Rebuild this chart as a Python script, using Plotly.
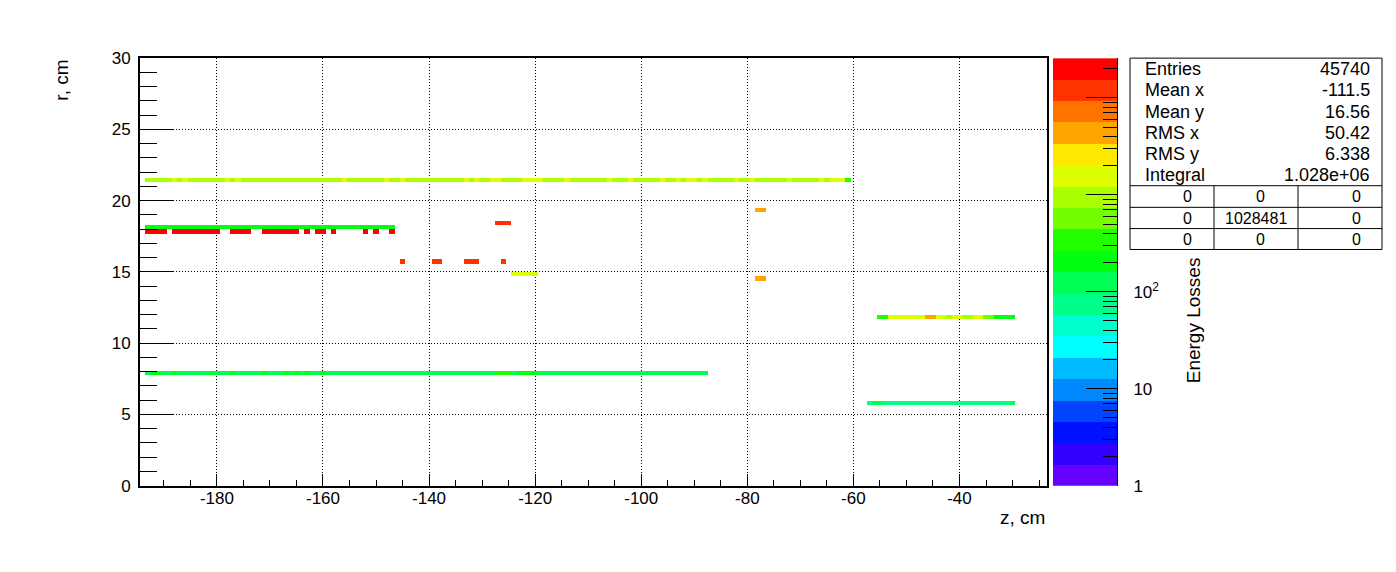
import math
import numpy as np
import plotly.graph_objects as go

W, H = 1396, 572

Z_START, Z_STOP, Z_BIN = -194.5, -23.5, 1.0
R_START, R_STOP, R_BIN = 0.0, 30.0, 0.3
LOG_ZMAX = 4.41          # top of the colour scale (log10 of energy losses)

X_TICKS = [-180, -160, -140, -120, -100, -80, -60, -40]
X_TICK_LABELS = ["-180", "-160", "-140", "-120", "-100", "-80", "-60", "-40"]
Y_TICKS = [0, 5, 10, 15, 20, 25, 30]
Y_TICK_LABELS = ["0", "5", "10", "15", "20", "25", "30"]
CB_TICKS = [0, 1, 2]
CB_TICK_LABELS = ["1", "10", "10<sup>2</sup>"]
CB_UNLABELLED = [3, 4]

# ROOT-like rainbow palette, 20 contours, low -> high
PALETTE = ["#6600ff", "#3300ff", "#0011ff", "#0044ff", "#0088ff",
           "#00bbff", "#00ffff", "#00ffcc", "#00ff88", "#00ff55",
           "#00ff11", "#22ff00", "#73ff00", "#aaff00", "#ddff00",
           "#ffe800", "#ffa500", "#ff7300", "#ff3300", "#ff0000"]

# ---------------- data: rows of cells (r lower edge, runs of z bins) ----------------
# each run: (z from, z to, energy losses); later runs overwrite earlier ones
R_TOP = 21.3
RUNS_TOP = [(-193.5, -60.5, 950),
            (-188.5, -187.5, 1580), (-186.5, -185.5, 1580), (-178.5, -177.5, 1580),
            (-176.5, -175.5, 1580), (-156.5, -155.5, 1580), (-148.5, -147.5, 1580),
            (-145.5, -144.5, 1580), (-133.5, -132.5, 1580), (-131.5, -130.5, 1580),
            (-128.5, -126.5, 1580), (-122.5, -118.5, 1580), (-114.5, -113.5, 1580),
            (-106.5, -105.5, 1580), (-102.5, -101.5, 1580), (-96.5, -95.5, 1580),
            (-93.5, -92.5, 1580), (-91.5, -89.5, 1580), (-88.5, -87.5, 1580),
            (-82.5, -81.5, 1580), (-79.5, -78.5, 1580), (-72.5, -71.5, 1580),
            (-66.5, -65.5, 1580), (-64.5, -61.5, 1580), (-61.5, -60.5, 340)]

R_GREEN = 18.0
RUNS_GREEN = [(-193.5, -146.5, 210)]

R_RED = 17.7
RUNS_RED = [(-193.5, -189.5, 20000), (-188.5, -179.5, 20000), (-177.5, -173.5, 20000),
            (-171.5, -164.5, 20000), (-163.5, -162.5, 20000), (-161.5, -159.5, 20000),
            (-158.5, -157.5, 20000), (-152.5, -151.5, 20000), (-150.5, -149.5, 20000),
            (-147.5, -146.5, 20000)]

R_A = 18.3
RUNS_A = [(-127.5, -124.5, 12000)]

R_B = 15.6
RUNS_B = [(-145.5, -144.5, 12000), (-139.5, -137.5, 12000),
          (-133.5, -130.5, 12000), (-126.5, -125.5, 12000)]

R_C = 14.7
RUNS_C = [(-124.5, -119.5, 1580)]

R_D = 19.2
RUNS_D = [(-78.5, -76.5, 4350)]

R_E = 14.4
RUNS_E = [(-78.5, -76.5, 4350)]

R_F = 11.7
RUNS_F = [(-55.5, -53.5, 340), (-53.5, -46.5, 1580), (-46.5, -44.5, 4350),
          (-44.5, -42.5, 1580), (-42.5, -41.5, 950), (-41.5, -39.5, 1580),
          (-39.5, -37.5, 950), (-37.5, -35.5, 1580), (-35.5, -33.5, 570),
          (-33.5, -29.5, 210)]

R_G = 7.8
RUNS_G = [(-193.5, -87.5, 125),
          (-192.5, -190.5, 210), (-188.5, -187.5, 210), (-181.5, -180.5, 210),
          (-177.5, -176.5, 210), (-171.5, -170.5, 210), (-167.5, -166.5, 210),
          (-165.5, -164.5, 210), (-163.5, -162.5, 210), (-160.5, -159.5, 210),
          (-127.5, -124.5, 340), (-123.5, -119.5, 210)]

R_H = 5.7
RUNS_H = [(-57.5, -29.5, 75), (-56.5, -54.5, 125), (-30.5, -29.5, 125)]

ROWS = [(R_TOP, RUNS_TOP), (R_GREEN, RUNS_GREEN), (R_RED, RUNS_RED), (R_A, RUNS_A),
        (R_B, RUNS_B), (R_C, RUNS_C), (R_D, RUNS_D), (R_E, RUNS_E),
        (R_F, RUNS_F), (R_G, RUNS_G), (R_H, RUNS_H)]

# ---------------- stats box text ----------------
STAT_NAMES = ["Entries", "Mean x", "Mean y", "RMS x", "RMS y", "Integral"]
STAT_VALUES = ["45740", "-111.5", "16.56", "50.42", "6.338", "1.028e+06"]
STAT_TABLE = [["0", "0", "0"], ["0", "1028481", "0"], ["0", "0", "0"]]

# ---------------- build histogram matrix ----------------
nz = int(round((Z_STOP - Z_START) / Z_BIN))
nr = int(round((R_STOP - R_START) / R_BIN))
zc = [Z_START + (i + 0.5) * Z_BIN for i in range(nz)]
rc = [R_START + (j + 0.5) * R_BIN for j in range(nr)]
M = np.full((nr, nz), np.nan)
for r_low, runs in ROWS:
    j = int(round((r_low - R_START) / R_BIN))
    for a, b, v in runs:
        i0 = int(round((a - Z_START) / Z_BIN))
        i1 = int(round((b - Z_START) / Z_BIN))
        M[j, i0:i1] = math.log10(v)

n = len(PALETTE)
cscale = []
for k, c in enumerate(PALETTE):
    cscale.append([k / n, c])
    cscale.append([(k + 1) / n, c])

# page-pixel -> paper helpers (vertical compensation for how the page is photographed)
Y_OFF, Y_SCALE = 7.7, 0.97

def px(x):
    return x / W

def py(y):
    return 1 - ((y - Y_OFF) / Y_SCALE) / H

FONT = "Liberation Sans, Arial, Helvetica, sans-serif"

fig = go.Figure()
fig.add_trace(go.Heatmap(x=zc, y=rc, z=M, zmin=0, zmax=LOG_ZMAX, colorscale=cscale,
                         showscale=False, hoverinfo="skip", xaxis="x", yaxis="y"))

# palette column drawn as its own heatmap
band_c = [(k + 0.5) * LOG_ZMAX / n for k in range(n)]
fig.add_trace(go.Heatmap(x=[0], y=band_c, z=[[v] for v in band_c], zmin=0, zmax=LOG_ZMAX,
                         colorscale=cscale, showscale=False, hoverinfo="skip",
                         xaxis="x2", yaxis="y2"))
# empty trace to carry the extra long palette ticks (10^3, 10^4 hidden by stats box)
fig.add_trace(go.Scatter(x=[], y=[], xaxis="x2", yaxis="y3", hoverinfo="skip",
                         showlegend=False))

minor_log = [math.log10(m * 10 ** d) for d in range(5) for m in range(2, 10)
             if math.log10(m * 10 ** d) < LOG_ZMAX]

tickfont = dict(family=FONT, size=17, color="black")
fig.update_layout(
    width=W, height=H, margin=dict(l=0, r=0, t=0, b=0),
    paper_bgcolor="white", plot_bgcolor="white", showlegend=False,
    xaxis=dict(domain=[px(140), px(1047)], range=[Z_START, Z_STOP], anchor="y",
               tickmode="array", tickvals=X_TICKS, ticktext=X_TICK_LABELS,
               ticks="inside", ticklen=12, tickwidth=1, tickcolor="black",
               showgrid=True, gridcolor="black", gridwidth=1, griddash="1px,2px",
               showline=True, linecolor="black", linewidth=2, mirror=True, zeroline=False,
               tickfont=tickfont, ticklabelstandoff=-4,
               minor=dict(tick0=-180, dtick=5, ticks="inside", ticklen=6, tickcolor="black",
                          tickwidth=1, showgrid=False)),
    yaxis=dict(domain=[py(486), py(57)], range=[R_START, R_STOP], anchor="x",
               tickmode="array", tickvals=Y_TICKS, ticktext=Y_TICK_LABELS,
               ticks="inside", ticklen=33, tickwidth=1, tickcolor="black",
               showgrid=True, gridcolor="black", gridwidth=1, griddash="1px,2px",
               showline=True, linecolor="black", linewidth=2, mirror=True, zeroline=False,
               tickfont=tickfont, ticklabelstandoff=4,
               minor=dict(tick0=0, dtick=1, ticks="inside", ticklen=17, tickcolor="black",
                          tickwidth=1, showgrid=False)),
    xaxis2=dict(domain=[px(1053), px(1117)], range=[-0.5, 0.5], anchor="y2",
                visible=False, fixedrange=True),
    yaxis2=dict(domain=[py(486), py(57)], range=[0, LOG_ZMAX], anchor="x2", side="right",
                tickmode="array", tickvals=CB_TICKS, ticktext=CB_TICK_LABELS,
                ticks="inside", ticklen=31, tickwidth=1, tickcolor="black",
                showline=True, linecolor="black", linewidth=1,
                showgrid=False, zeroline=False, tickfont=tickfont, ticklabelstandoff=12,
                minor=dict(tickmode="array", tickvals=minor_log, ticks="inside", ticklen=14,
                           tickcolor="black", tickwidth=1, showgrid=False)),
    yaxis3=dict(domain=[py(486), py(57)], range=[0, LOG_ZMAX], anchor="x2", side="right",
                overlaying="y2", tickmode="array", tickvals=CB_UNLABELLED,
                showticklabels=False, ticks="inside", ticklen=31, tickwidth=1,
                tickcolor="black", showline=False, showgrid=False, zeroline=False),
)

ann = []
tfont = dict(family=FONT, size=19, color="black")
ann.append(dict(x=px(1047), y=py(518), xref="paper", yref="paper", text="z, cm",
                showarrow=False, xanchor="right", yanchor="middle", font=tfont))
ann.append(dict(x=px(62), y=py(57), xref="paper", yref="paper", text="r, cm",
                showarrow=False, xanchor="center", yanchor="top", textangle=-90, font=tfont))
ann.append(dict(x=px(1193), y=py(320), xref="paper", yref="paper", text="Energy Losses",
                showarrow=False, xanchor="center", yanchor="middle", textangle=-90, font=tfont))

# stats box
BX0, BX1, BY0, BY1 = 1130, 1382, 57, 249
shapes = [dict(type="rect", xref="paper", yref="paper", x0=px(BX0), x1=px(BX1),
               y0=py(BY1), y1=py(BY0), line=dict(color="black", width=1),
               fillcolor="white", layer="above")]
for yl in [185, 206.7, 228]:
    shapes.append(dict(type="line", xref="paper", yref="paper", x0=px(BX0), x1=px(BX1),
                       y0=py(yl), y1=py(yl), line=dict(color="black", width=1), layer="above"))
for xl in [1214, 1298]:
    shapes.append(dict(type="line", xref="paper", yref="paper", x0=px(xl), x1=px(xl),
                       y0=py(185), y1=py(249), line=dict(color="black", width=1), layer="above"))
sfont = dict(family=FONT, size=18, color="black")
for k, (nm, vl) in enumerate(zip(STAT_NAMES, STAT_VALUES)):
    yy = 68 + k * 21.3
    ann.append(dict(x=px(1143), y=py(yy), xref="paper", yref="paper", text=nm, showarrow=False,
                    xanchor="left", yanchor="middle", font=sfont))
    ann.append(dict(x=px(1372), y=py(yy), xref="paper", yref="paper", text=vl, showarrow=False,
                    xanchor="right", yanchor="middle", font=sfont))
tbfont = dict(family=FONT, size=16, color="black")
col_x = [1187, 1260, 1356]
for r_i, row in enumerate(STAT_TABLE):
    yy = 196 + r_i * 21.5
    for c_i, t in enumerate(row):
        cx = 1256 if len(t) > 1 else col_x[c_i]
        ann.append(dict(x=px(cx), y=py(yy), xref="paper", yref="paper", text=t,
                        showarrow=False, xanchor="center", yanchor="middle", font=tbfont))

fig.update_layout(annotations=ann, shapes=shapes)
fig.write_html("out.html", config={"displayModeBar": False},
               post_script="document.body.style.margin='0';document.body.style.overflow='hidden';")
